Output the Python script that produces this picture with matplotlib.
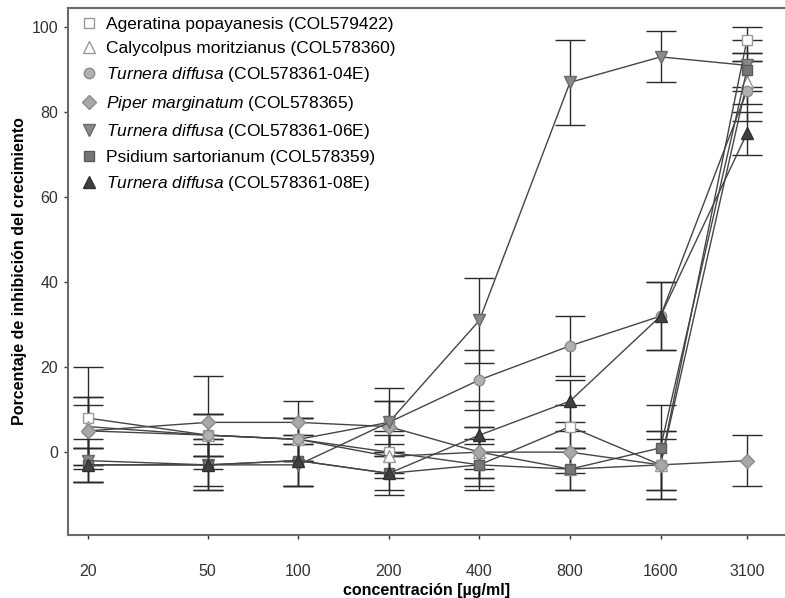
import matplotlib
matplotlib.use("Agg")
import matplotlib.pyplot as plt
from matplotlib.ticker import NullLocator

plt.rcParams["font.family"] = ["Liberation Sans", "DejaVu Sans"]
plt.rcParams["mathtext.fontset"] = "custom"
plt.rcParams["mathtext.rm"] = "Liberation Sans"
plt.rcParams["mathtext.it"] = "Liberation Sans:italic"

# concentrations (ug/ml)
conc = [20, 50, 100, 200, 400, 800, 1600, 3100]
conc_labels = ["20", "50", "100", "200", "400", "800", "1600", "3100"]

labels = [
    "Ageratina popayanesis (COL579422)",
    "Calycolpus moritzianus (COL578360)",
    r"$\it{Turnera\ diffusa}$ (COL578361-04E)",
    r"$\it{Piper\ marginatum}$ (COL578365)",
    r"$\it{Turnera\ diffusa}$ (COL578361-06E)",
    "Psidium sartorianum (COL578359)",
    r"$\it{Turnera\ diffusa}$ (COL578361-08E)",
]

ageratina = [8, 4, 3, 0, -3, 6, -3, 97]
ageratina_err = [12, 5, 5, 5, 6, 5, 8, 3]
calycolpus = [6, 4, 3, -1, 0, -4, -3, 87]
calycolpus_err = [5, 5, 5, 5, 6, 5, 6, 5]
turnera04 = [5, 4, 3, 7, 17, 25, 32, 85]
turnera04_err = [8, 5, 5, 5, 7, 7, 8, 7]
piper = [5, 7, 7, 6, 0, 0, -3, -2]
piper_err = [8, 11, 5, 6, 6, 5, 8, 6]
turnera06 = [-2, -3, -3, 7, 31, 87, 93, 91]
turnera06_err = [5, 6, 5, 8, 10, 10, 6, 6]
psidium = [-3, -3, -2, -5, -3, -4, 1, 90]
psidium_err = [4, 5, 6, 5, 5, 5, 10, 4]
turnera08 = [-3, -3, -2, -5, 4, 12, 32, 75]
turnera08_err = [4, 6, 6, 4, 8, 5, 8, 5]

series = [ageratina, calycolpus, turnera04, piper, turnera06, psidium, turnera08]
errors = [ageratina_err, calycolpus_err, turnera04_err, piper_err,
          turnera06_err, psidium_err, turnera08_err]
markers = ["s", "^", "o", "D", "v", "s", "^"]
faces = ["white", "white", "#b0b0b0", "#a8a8a8", "#8a8a8a", "#767676", "#404040"]
edges = ["#9a9a9a", "#9a9a9a", "#8c8c8c", "#8c8c8c", "#6a6a6a", "#5a5a5a", "#303030"]
sizes = [7, 8, 7.5, 7, 8.5, 7, 8.5]

fig = plt.figure(figsize=(7.85, 5.98), dpi=100)
ax = fig.add_axes([68 / 785, 63 / 598, 1 - 68 / 785, 527 / 598])

for y, e, m, fc, ec, ms, lab in zip(series, errors, markers, faces, edges, sizes, labels):
    ax.errorbar(conc, y, yerr=e, fmt="-", color="#454545", lw=1,
                ecolor="#2a2a2a", elinewidth=1, capsize=11, capthick=1.2,
                marker=m, ms=ms, mfc=fc, mec=ec, mew=1, label=lab)

ax.set_xscale("log")
ax.set_xlim(17.16, 4148)
ax.set_ylim(-19.5, 104.5)
ax.set_xticks(conc)
ax.set_xticklabels(conc_labels)
ax.xaxis.set_minor_locator(NullLocator())
ax.set_yticks([0, 20, 40, 60, 80, 100])

for s in ["left", "bottom", "top"]:
    ax.spines[s].set_color("#6a6a6a")
    ax.spines[s].set_linewidth(1.5)
ax.spines["right"].set_visible(False)
ax.tick_params(direction="out", length=3, width=1, colors="#333333",
               labelsize=11.5)
ax.tick_params(axis="x", pad=18)
ax.tick_params(axis="y", pad=4)

ax.set_xlabel("concentración [µg/ml]", fontsize=11.5, fontweight="bold", labelpad=3)
ax.set_ylabel("Porcentaje de inhibición del crecimiento", fontsize=11.5,
              fontweight="bold", labelpad=3)

# legend: markers only
leg_handles = []
for m, fc, ec, ms in zip(markers, faces, edges, sizes):
    h, = ax.plot([], [], ls="none", marker=m, ms=ms, mfc=fc, mec=ec, mew=1)
    leg_handles.append(h)
ax.legend(leg_handles, labels, loc="upper left", bbox_to_anchor=(0.005, 1.0),
          frameon=False, fontsize=12.5, handlelength=1.0, handletextpad=0.5,
          labelspacing=0.53, borderaxespad=0.1)

fig.savefig("out.png", dpi=100)
